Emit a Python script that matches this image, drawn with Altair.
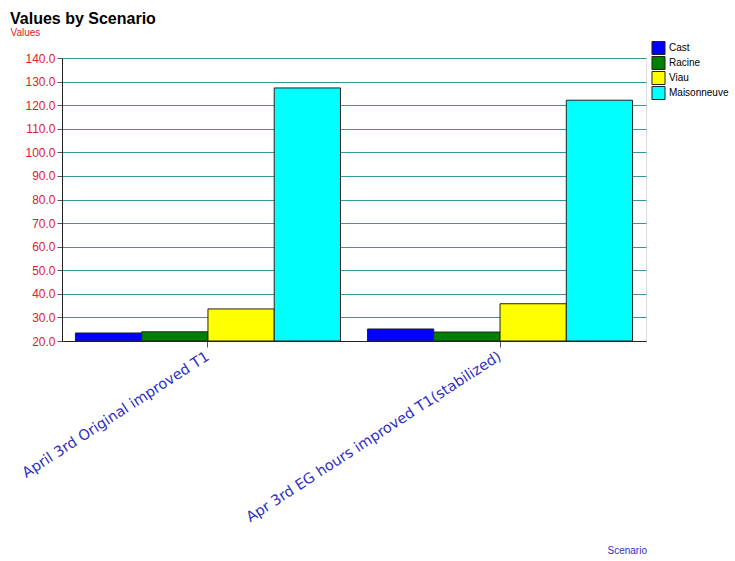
import altair as alt
import pandas as pd

scenarios = ["April 3rd Original improved T1", "Apr 3rd EG hours improved T1(stabilized)"]
series = ["Cast", "Racine", "Viau", "Maisonneuve"]
colors = ["#0000ff", "#008000", "#ffff00", "#00ffff"]
values = {
    "Cast": [23.4, 25.1],
    "Racine": [23.9, 23.8],
    "Viau": [33.6, 35.8],
    "Maisonneuve": [127.3, 122.1],
}

rows = []
for s in series:
    for i, sc in enumerate(scenarios):
        rows.append({"Scenario": sc, "Series": s, "Value": values[s][i], "Base": 20.0})
df = pd.DataFrame(rows)

font = "Liberation Sans"

bars = alt.Chart(df).mark_bar(stroke="#222222", strokeWidth=1).encode(
    x=alt.X(
        "Scenario:N",
        sort=scenarios,
        scale=alt.Scale(paddingInner=0.0925, paddingOuter=0.046),
        axis=alt.Axis(
            title="Scenario",
            labelAngle=-33,
            labelAlign="right",
            labelBaseline="middle",
            labelColor="#3030c0",
            labelFontSize=14.5,
            labelFont="DejaVu Sans",
            labelPadding=8,
            labelLimit=400,
            titleColor="#3030c0",
            titleFont=font,
            titleFontSize=10,
            titleFontWeight="normal",
            titleX=545,
            titleY=214,
            titleAlign="left",
            titleBaseline="bottom",
            domainColor="#222222",
            tickColor="#555555",
            tickSize=6,
        ),
    ),
    xOffset=alt.XOffset("Series:N", sort=series, scale=alt.Scale(paddingInner=0, paddingOuter=0)),
    y=alt.Y(
        "Value:Q",
        scale=alt.Scale(domain=[20, 140], nice=False, zero=False),
        axis=alt.Axis(
            title="Values",
            values=[20, 30, 40, 50, 60, 70, 80, 90, 100, 110, 120, 130, 140],
            format=".1f",
            labelColor="#e0202a",
            labelFontSize=12,
            labelFont=font,
            titleColor="#e0202a",
            titleFont=font,
            titleFontSize=10,
            titleFontWeight="normal",
            titleAngle=0,
            titleX=-52,
            titleY=-21,
            titleAlign="left",
            gridColor="#339999",
            gridWidth=1.2,
            domainColor="#222222",
            tickColor="#555555",
            tickSize=5,
        ),
    ),
    y2="Base:Q",
    color=alt.Color(
        "Series:N",
        sort=series,
        scale=alt.Scale(domain=series, range=colors),
        legend=alt.Legend(
            title=None,
            orient="none",
            legendX=589,
            legendY=-17,
            symbolType="square",
            symbolSize=170,
            symbolStrokeColor="#222222",
            symbolStrokeWidth=1,
            labelFontSize=10,
            labelFont=font,
            labelColor="#000000",
            clipHeight=14,
            rowPadding=1,
            labelOffset=3,
        ),
    ),
)

chart = bars.properties(
    width=584,
    height=283,
    autosize=alt.AutoSizeParams(type="none"),
    padding={"left": 62, "top": 58, "right": 89, "bottom": 220},
    title=alt.TitleParams(
        "Values by Scenario",
        anchor="start",
        frame="group",
        font=font,
        fontSize=16,
        fontWeight="bold",
        color="#000000",
        dx=-52,
        dy=0,
        offset=0,
    ),
).configure_view(stroke="#222222", strokeWidth=1).configure(background="white")

chart.save("out.html", embed_options={"renderer": "svg", "actions": False})
